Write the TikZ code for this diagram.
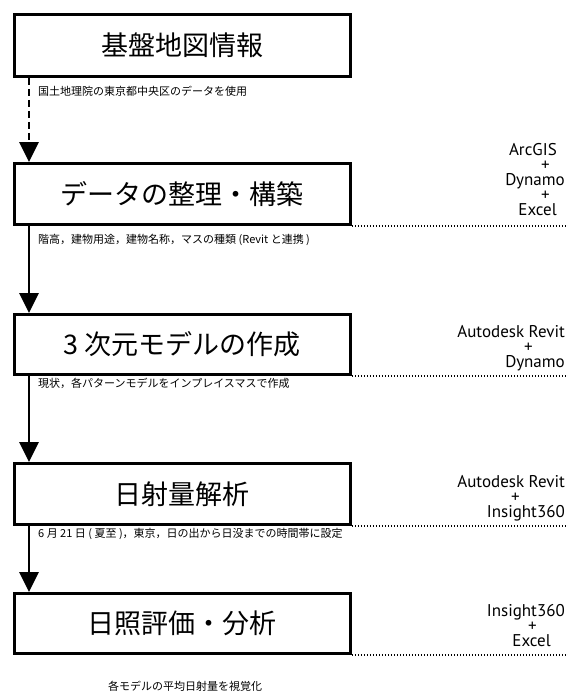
\documentclass[tikz,border=0pt]{standalone}
\usepackage{fontspec}
\setmainfont{PT Sans}
\newfontfamily\jp{Noto Sans CJK JP}
\usetikzlibrary{arrows.meta,calc}
\newcommand{\pad}[1]{\hbox to #1{}}
\begin{document}
\begin{tikzpicture}[x=1pt,y=-1pt,
  stepbox/.style={draw,line width=2.8pt,minimum width=336pt,anchor=north west,inner sep=0pt,font=\jp\fontsize{27}{30}\selectfont},
  note/.style={anchor=west,inner sep=0pt,font=\jp\fontsize{11}{13}\selectfont},
  tool/.style={anchor=north east,inner sep=0pt,align=right,font=\fontsize{17}{15}\selectfont},
  flow/.style={line width=2.8pt,-{Triangle[width=19pt,length=20pt]}},
  dflow/.style={flow,dash pattern=on 7pt off 4pt},
  leader/.style={line width=1.4pt,dash pattern=on 1.6pt off 1.4pt}]
\useasboundingbox (0,0) rectangle (568,694);
\coordinate (edge) at (568,0);
% boxes
\node[stepbox,minimum height=62pt] (b1) at (13,13) {基盤地図情報};
\node[stepbox,minimum height=61pt] (b2) at (13,162) {データの整理・構築};
\node[stepbox,minimum height=60pt] (b3) at (13,313) {3 次元モデルの作成};
\node[stepbox,minimum height=61pt] (b4) at (13,462) {日射量解析};
\node[stepbox,minimum height=60pt] (b5) at (13,592) {日照評価・分析};
% notes
\node[note] (n1) at (38,91) {国土地理院の東京都中央区のデータを使用};
\node[note] (n2) at (38,240) {階高，建物用途，建物名称，マスの種類 (Revit と連携 )};
\node[note] (n3) at (38,383) {現状，各パターンモデルをインプレイスマスで作成};
\node[note] (n4) at (38,534) {6 月 21 日 ( 夏至 )，東京，日の出から日没までの時間帯に設定};
\node[note,anchor=center] (n5) at (185,686) {各モデルの平均日射量を視覚化};
% arrows
\draw[dflow] ($(b1.south west)+(16,0)$) -- ($(b2.north west)+(16,0)$);
\draw[flow] ($(b2.south west)+(16,0)$) -- ($(b3.north west)+(16,0)$);
\draw[flow] ($(b3.south west)+(16,0)$) -- ($(b4.north west)+(16,0)$);
\draw[flow] ($(b4.south west)+(16,0)$) -- ($(b5.north west)+(16,0)$);
% leaders
\draw[leader] (b2.south east) -- (b2.south east -| edge);
\draw[leader] (b3.south east) -- (b3.south east -| edge);
\draw[leader] (b4.south east) -- (b4.south east -| edge);
\draw[leader] (b5.south east) -- (b5.south east -| edge);
% tools
\node[tool] (t2) at (565,143) {ArcGIS\pad{8pt}\\+\pad{15pt}\\Dynamo\\+\pad{15pt}\\Excel\pad{8pt}};
\node[tool] (t3) at (565,325) {Autodesk Revit\\+\pad{32pt}\\Dynamo};
\node[tool] (t4) at (565,475) {Autodesk Revit\\+\pad{45pt}\\Insight360};
\node[tool] (t5) at (565,604) {Insight360\\+\pad{28pt}\\Excel\pad{14pt}};
\end{tikzpicture}
\end{document}
